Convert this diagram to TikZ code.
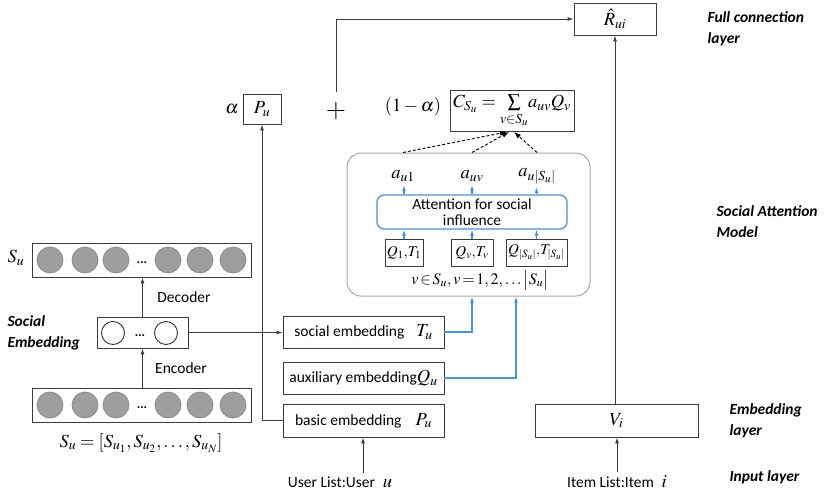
\documentclass[tikz,border=0pt]{standalone}
\usepackage{mathptmx}
\usepackage{fontspec}
\setmainfont{Carlito}
\usetikzlibrary{arrows.meta,calc}
\definecolor{lblue}{RGB}{80,145,210}
\definecolor{lineg}{RGB}{60,60,60}
\newcommand\mm[1]{{\fontsize{18.5}{20}\selectfont$#1$}}
\newcommand\mq[1]{{\fontsize{15}{16}\selectfont$#1$}}
\begin{document}
\begin{tikzpicture}[x=1pt,y=-1pt,
  font=\fontsize{15.5}{19}\selectfont,
  box/.style={draw=lineg, line width=0.9pt, inner sep=1pt},
  arr/.style={draw=lineg, line width=0.9pt, -{Latex[length=6pt,width=4pt]}},
  barr/.style={draw=lblue, line width=1.1pt, -{Latex[length=6pt,width=4pt]}},
  darr/.style={draw=black, line width=0.9pt, dashed, dash pattern=on 3pt off 2pt, -{Latex[length=7pt,width=5pt]}},
  fullc/.style={circle, draw=black!45, fill=black!38, line width=0.8pt, minimum size=26pt, inner sep=0pt},
  emptyc/.style={circle, draw=black!80, fill=white, line width=0.9pt, minimum size=23pt, inner sep=0pt},
  lay/.style={font=\fontsize{15.5}{21}\selectfont\bfseries\itshape, align=left, anchor=west},
  dotsn/.style={font=\fontsize{13}{13}\selectfont\bfseries}
]
\useasboundingbox (0,0) rectangle (825,498);

% ---- top: output
\node[box, minimum width=82pt, minimum height=32pt] (R) at (615,19) {\mm{\hat{R}_{ui}}};
\node[box, minimum width=124pt, minimum height=41pt] (C) at (512,111)
  {\mm{C_{S_u}=\sum\limits_{v\in S_u}\!a_{uv}Q_v}};
\node[box, minimum width=38pt, minimum height=30pt] (P) at (262,109) {\mm{P_u}};
\node (alpha) at (232,109) {\mm{\alpha}};
\node[font=\fontsize{26}{26}\selectfont, inner sep=0pt] (plus) at (336,111) {$+$};
\node (onem) at (413,107) {\mm{(1-\alpha)}};

% ---- social attention model
\node[draw=black!35, line width=1pt, rounded corners=14pt, minimum width=243pt, minimum height=143pt] (big) at (468.5,224.5) {};
\node (a1) at (403,176) {\mm{a_{u1}}};
\node (av) at (472,176) {\mm{a_{uv}}};
\node (aS) at (537,176) {\mm{a_{u|S_u|}}};
\node[draw=lblue, line width=1.3pt, rounded corners=7pt, minimum width=190pt, minimum height=34pt, inner sep=0pt, align=center, font=\fontsize{15.5}{16}\selectfont] (att) at (472,212) {Attention for social\\influence};
\node[box, minimum width=38pt, minimum height=27pt] (q1) at (404,252.5) {\mq{Q_1,\!T_1}};
\node[box, minimum width=42pt, minimum height=27pt] (qv) at (472,252.5) {\mq{Q_v,\!T_v}};
\node[box, minimum width=61pt, minimum height=27pt, inner sep=0.5pt] (qS) at (536.5,252.5) {\mq{Q_{|S_u|},\!T_{|S_u|}}};
\node (vl) at (480,280) {{\fontsize{16}{17}\selectfont$v\!\in\! S_u, v\!=\!1,2,\ldots\big|S_u\big|$}};

% ---- embeddings
\node[box, minimum width=161pt, minimum height=32pt] (soc) at (363.5,332) {social embedding\hspace{12pt}\mm{T_u}};
\node[box, minimum width=161pt, minimum height=32pt] (aux) at (363.5,378) {auxiliary embedding\mm{Q_u}};
\node[box, minimum width=161pt, minimum height=33pt] (basic) at (363.5,420.5) {basic embedding\hspace{14pt}\mm{P_u}};
\node[box, minimum width=163pt, minimum height=33pt] (V) at (616.5,420.5) {\mm{V_i}};
\node (user) at (340,482) {User List:User\enspace\mm{u}};
\node (item) at (617,482) {Item List:Item\enspace\mm{i}};

% ---- left autoencoder
\node[box, minimum width=219pt, minimum height=34pt] (topb) at (141.5,260) {};
\node[box, minimum width=91pt, minimum height=31pt] (midb) at (142.5,332.5) {};
\node[box, minimum width=219pt, minimum height=34pt] (botb) at (141.5,405) {};
\foreach \x/\n in {50/1,85/2,116/3,168/4,200/5,233/6}{
  \node[fullc] (t\n) at (\x,260) {};
  \node[fullc] (b\n) at (\x,405) {};
}
\node[dotsn] (tdots) at (142,263) {...};
\node[dotsn] (bdots) at (142,408) {...};
\node[emptyc] (m1) at (113,333) {};
\node[emptyc] (m2) at (166,333) {};
\node[dotsn] (mdots) at (140,336) {...};
\node (Su) at (16,258) {\mm{S_u}};
\node (Suf) at (141,443) {\mm{S_u=[S_{u_1},S_{u_2},\ldots,S_{u_N}]}};
\node (dec) at (184,297) {Decoder};
\node (enc) at (181,368) {Encoder};

% ---- layer labels
\node[lay] (l1) at (704,29) {Full connection\\layer};
\node[lay] (l2) at (713,222) {Social Attention\\Model};
\node[lay] (l3) at (726,421) {Embedding\\layer};
\node[lay] (l4) at (726,477) {Input layer};
\node[lay] (l5) at (4,333) {Social\\Embedding};

% ---- connectors
\draw[arr] (botb.north -| midb) -- (midb.south);
\draw[arr] (midb.north) -- (midb.north |- topb.south);
\draw[arr] (midb.east) -- (midb.east -| soc.west);
\draw[arr] (basic.west) -| (P.south);
\coordinate (ua) at ($(user.north)+(23,0)$);
\draw[arr] (ua) -- (ua |- basic.south);
\draw[arr] (item.north) -- (item.north |- V.south);
\draw[arr] (V.north -| R.south) -- (R.south);
\coordinate (pt) at ($(plus.north)+(0,-10)$);
\draw[arr] (pt) |- (R.west);
% blue
\coordinate (b1) at ($(big.south)+(3.5,0)$);
\coordinate (b2) at ($(big.south)+(47.5,0)$);
\draw[barr] (soc.east) -| (b1);
\draw[barr] (aux.east) -| (b2);
\foreach \q/\a in {q1/a1,qv/av,qS/aS}{
  \draw[barr] (\q.north) -- (\q.north |- att.south);
  \draw[barr] (\q.north |- att.north) -- (\q.north |- \a.south);
}
% dashed
\draw[darr] (a1 |- big.north) -- ($(C.south)+(-5,0)$);
\draw[darr] (av |- big.north) -- ($(C.south)+(-3,0)$);
\draw[darr] (aS |- big.north) -- ($(C.south)+(2,0)$);
\end{tikzpicture}
\end{document}
